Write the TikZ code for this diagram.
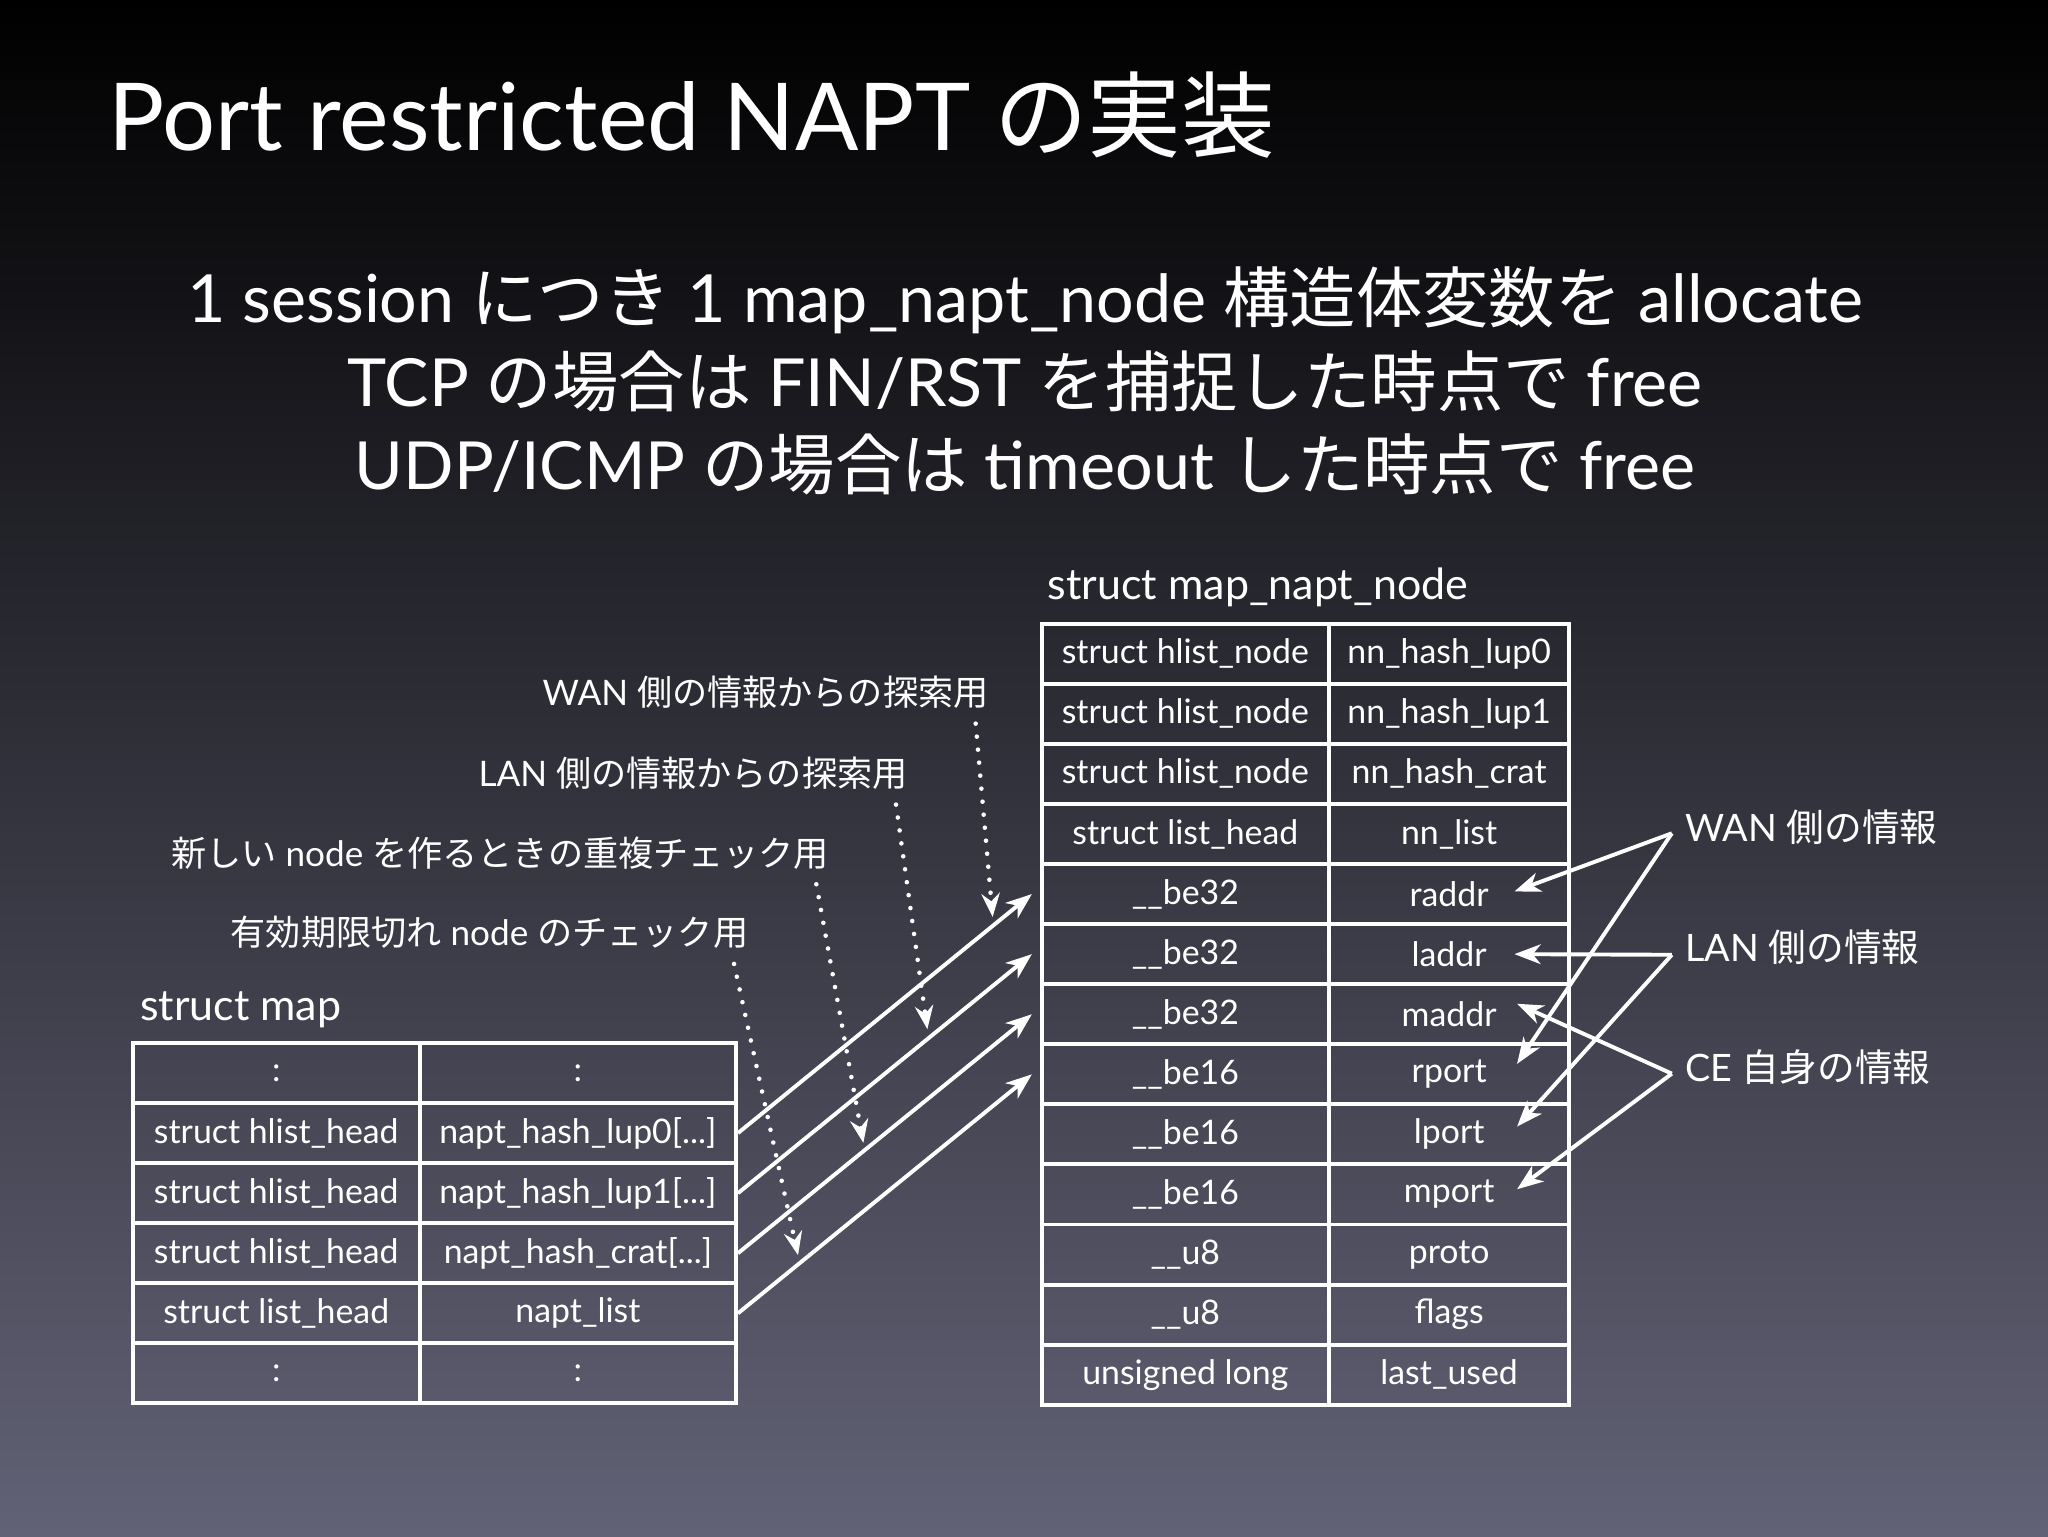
\documentclass[tikz,border=0pt]{standalone}
\usepackage{fontspec}
\setmainfont{Lato}
\newfontfamily\cjk{Noto Sans CJK JP}
\usetikzlibrary{arrows.meta,calc}
\newcommand{\jp}[1]{{\cjk #1}}
\newcommand{\tdots}{.{}.{}.}
\begin{document}
\begin{tikzpicture}[x=1bp,y=-1bp,
  cell/.style={draw=white,line width=3bp,minimum height=46bp,inner sep=0pt,text=white,font=\fontsize{26}{28}\selectfont,anchor=north west},
  conn/.style={white,line width=3bp,-{Stealth[length=20bp,width=15bp,inset=6bp]}},
  dots/.style={white,line width=3.5bp,line cap=round,dash pattern=on 0bp off 10bp,-{Stealth[length=18bp,width=14bp,inset=6bp]}},
  lbl/.style={text=white,inner sep=0pt,font=\fontsize{27}{30}\selectfont}]
\useasboundingbox (0,0) rectangle (1568,1176);
\shade[top color=black,middle color={rgb,255:red,26;green,26;blue,42},bottom color={rgb,255:red,98;green,98;blue,118}] (0,0) rectangle (1568,1176);
\node[text=white,anchor=base west,inner sep=0pt,font=\fontsize{72}{76}\selectfont] (title) at (83,115) {Port restricted NAPT \jp{の実装}};
\node[text=white,anchor=base,inner sep=0pt,font=\fontsize{51}{54}\selectfont] (s1) at (785,247) {1 session \jp{につき} 1 map\_napt\_node \jp{構造体変数を} allocate};
\node[text=white,anchor=base,inner sep=0pt,font=\fontsize{51}{54}\selectfont] (s2) at (785,311) {TCP \jp{の場合は} FIN/RST \jp{を捕捉した時点で} free};
\node[text=white,anchor=base,inner sep=0pt,font=\fontsize{51}{54}\selectfont] (s3) at (785,375) {UDP/ICMP \jp{の場合は} timeout \jp{した時点で} free};
% right table
\node[text=white,anchor=base west,inner sep=0pt,font=\fontsize{33}{36}\selectfont] (hdrR) at (802,459) {struct map\_napt\_node};
\foreach \i/\a/\b in {1/struct hlist\_node/nn\_hash\_lup0,2/struct hlist\_node/nn\_hash\_lup1,3/struct hlist\_node/nn\_hash\_crat,4/struct list\_head/nn\_list,5/\_\_be32/raddr,6/\_\_be32/laddr,7/\_\_be32/maddr,8/\_\_be16/rport,9/\_\_be16/lport,10/\_\_be16/mport,11/\_\_u8/proto,12/\_\_u8/flags,13/unsigned long/last\_used}{
  \node[cell,minimum width=220bp] (rl\i) at (796,{476+(\i-1)*46}) {\a};
  \node[cell,minimum width=184bp] (rr\i) at (1016,{476+(\i-1)*46}) {\b};
}
% left table
\node[text=white,anchor=base west,inner sep=0pt,font=\fontsize{33}{36}\selectfont] (hdrL) at (107,781) {struct map};
\foreach \i/\a/\b in {1/:/:,2/struct hlist\_head/napt\_hash\_lup0[\tdots],3/struct hlist\_head/napt\_hash\_lup1[\tdots],4/struct hlist\_head/napt\_hash\_crat[\tdots],5/struct list\_head/napt\_list,6/:/:}{
  \node[cell,minimum width=220bp] (ll\i) at (100,{797+(\i-1)*46}) {\a};
  \node[cell,minimum width=242bp] (lr\i) at (320,{797+(\i-1)*46}) {\b};
}
% solid connectors
\draw[conn] (lr2.east) -- ($(rl5.west)+(-6,0)$);
\draw[conn] (lr3.east) -- ($(rl6.west)+(-6,0)$);
\draw[conn] (lr4.east) -- ($(rl7.west)+(-6,0)$);
\draw[conn] (lr5.east) -- ($(rl8.west)+(-6,0)$);
% left labels
\node[lbl,anchor=east] (d1) at (757,530) {WAN \jp{側の情報からの探索用}};
\node[lbl,anchor=east] (d2) at (695,592) {LAN \jp{側の情報からの探索用}};
\node[lbl,anchor=east] (d3) at (635,653) {\jp{新しい} node \jp{を作るときの重複チェック用}};
\node[lbl,anchor=east] (d4) at (573,714) {\jp{有効期限切れ} node \jp{のチェック用}};
\coordinate (e1) at (760,702);
\coordinate (e2) at (710,788);
\coordinate (e3) at (661,875);
\coordinate (e4) at (611,961);
\draw[dots] (747,554) -- (e1);
\draw[dots] (686,616) -- (e2);
\draw[dots] (625,677) -- (e3);
\draw[dots] (562,738) -- (e4);
% right labels
\node[lbl,anchor=west,font=\fontsize{29}{32}\selectfont] (wan) at (1290,633) {WAN \jp{側の情報}};
\node[lbl,anchor=west,font=\fontsize{29}{32}\selectfont] (lan) at (1290,725) {LAN \jp{側の情報}};
\node[lbl,anchor=west,font=\fontsize{29}{32}\selectfont] (ce) at (1290,817) {CE \jp{自身の情報}};
\coordinate (wv) at (1280,638);
\coordinate (lv) at (1280,731);
\coordinate (cv) at (1280,822);
\draw[conn] (wv) -- ($(rr5.center)+(50,-2)$);
\draw[conn] (wv) -- ($(rr8.center)+(52,-8)$);
\draw[conn] (lv) -- ($(rr6.center)+(50,0)$);
\draw[conn] (lv) -- ($(rr9.center)+(52,-6)$);
\draw[conn] (cv) -- ($(rr7.center)+(52,-8)$);
\draw[conn] (cv) -- ($(rr10.center)+(52,-4)$);
\end{tikzpicture}
\end{document}
